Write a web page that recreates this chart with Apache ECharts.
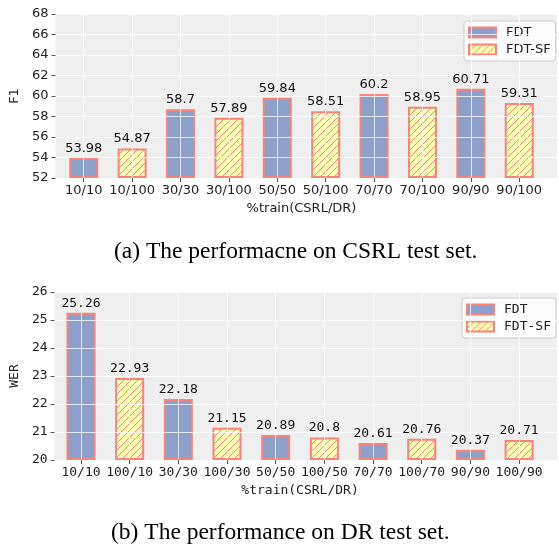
<!DOCTYPE html>
<html>
<head>
<meta charset="utf-8">
<script src="https://cdn.jsdelivr.net/npm/echarts@6/dist/echarts.min.js"></script>
<style>
  html, body { margin: 0; padding: 0; background: #fff; }
  #main { width: 559px; height: 545px; }
</style>
</head>
<body>
<div id="main"></div>
<script>
// (a) CSRL test set
var topCats = ['10/10', '10/100', '30/30', '30/100', '50/50', '50/100', '70/70', '70/100', '90/90', '90/100'];
var topFdt = [53.98, 58.7, 59.84, 60.2, 60.71];
var topFdtSf = [54.87, 57.89, 58.51, 58.95, 59.31];
// (b) DR test set
var botCats = ['10/10', '100/10', '30/30', '100/30', '50/50', '100/50', '70/70', '100/70', '90/90', '100/90'];
var botFdt = [25.26, 22.18, 20.89, 20.61, 20.37];
var botFdtSf = [22.93, 21.15, 20.8, 20.76, 20.71];

var BLUE = '#8DA0CB';
var YELLOW = '#FFFFB3';
var EDGE = '#F8837A';
var GRIDLINE = 'rgba(255,255,255,0.75)';
var FS = 13;

// hatch tile "//"
function makeHatch() {
  var c = document.createElement('canvas');
  var s = 7;
  c.width = s; c.height = s;
  var ctx = c.getContext('2d');
  ctx.fillStyle = YELLOW;
  ctx.fillRect(0, 0, s, s);
  ctx.strokeStyle = EDGE;
  ctx.lineWidth = 1;
  ctx.beginPath();
  ctx.moveTo(-1, 1); ctx.lineTo(1, -1);
  ctx.moveTo(0, s); ctx.lineTo(s, 0);
  ctx.moveTo(s - 1, s + 1); ctx.lineTo(s + 1, s - 1);
  ctx.stroke();
  return c;
}
var hatch = { image: makeHatch(), repeat: 'repeat' };

// put values on even / odd slots
function spread(vals, odd) {
  var out = [];
  for (var i = 0; i < vals.length * 2; i++) {
    out.push((i % 2 === (odd ? 1 : 0)) ? vals[Math.floor(i / 2)] : '-');
  }
  return out;
}

function barSeries(name, data, idx, fill) {
  return {
    name: name,
    type: 'bar',
    xAxisIndex: idx,
    yAxisIndex: idx,
    data: data,
    barWidth: 29,
    barGap: '-100%',
    clip: false,
    z: 2,
    itemStyle: { color: fill, borderColor: EDGE, borderWidth: 2 }
  };
}

// transparent copy of the bars that only carries the value labels (kept above the grid lines)
function labelSeries(cats, a, b, idx, font) {
  var data = [];
  var fa = spread(a, false), fb = spread(b, true);
  for (var i = 0; i < cats.length; i++) data.push(fa[i] !== '-' ? fa[i] : fb[i]);
  return {
    name: 'labels',
    type: 'bar',
    xAxisIndex: idx,
    yAxisIndex: idx,
    data: data,
    barWidth: 29,
    barGap: '-100%',
    clip: false,
    z: 10,
    silent: true,
    itemStyle: { color: 'rgba(0,0,0,0)' },
    label: {
      show: true,
      position: 'top',
      distance: 3,
      color: '#111',
      fontFamily: font,
      fontSize: FS
    }
  };
}

var SANS = 'DejaVu Sans';
var MONO = 'DejaVu Sans Mono';

function bgYAxis(idx, min, max, interval, name, gap, font) {
  return {
    type: 'value', gridIndex: idx, min: min, max: max, interval: interval,
    z: 5,
    name: name, nameLocation: 'middle', nameGap: gap,
    nameTextStyle: { fontFamily: font, fontSize: FS, color: '#222' },
    axisLine: { show: false },
    axisTick: { show: true, length: 4, lineStyle: { color: '#555' } },
    axisLabel: { margin: 7, fontFamily: font, fontSize: FS, color: '#222' },
    splitLine: { show: true, lineStyle: { color: GRIDLINE, width: 1 } }
  };
}

// hidden value axis the bars grow from (bars start at min, not at 0)
function barYAxis(idx, min, max) {
  return { type: 'value', gridIndex: idx, min: min, max: max, startValue: min, show: false };
}

function catXAxis(idx, cats, font) {
  return {
    type: 'category', gridIndex: idx, data: cats, boundaryGap: false,
    z: 5,
    name: '%train(CSRL/DR)', nameLocation: 'middle', nameGap: 24,
    nameTextStyle: { fontFamily: font, fontSize: FS, color: '#222' },
    axisLine: { show: false },
    axisTick: { show: true, length: 4, lineStyle: { color: '#555' } },
    axisLabel: { margin: 6, interval: 0, fontFamily: font, fontSize: FS, color: '#222' },
    splitLine: { show: true, lineStyle: { color: GRIDLINE, width: 1 } }
  };
}

function legendAt(left, top, font) {
  return {
    orient: 'vertical', left: left, top: top,
    data: ['FDT', 'FDT-SF'],
    icon: 'rect', itemWidth: 27, itemHeight: 10, itemGap: 4,
    padding: [5, 5, 5, 4],
    backgroundColor: 'rgba(255,255,255,0.8)',
    borderColor: '#CCCCCC', borderWidth: 1, borderRadius: 3,
    textStyle: { fontFamily: font, fontSize: FS, color: '#222', padding: [0, 0, 0, 5] }
  };
}

var chart = echarts.init(document.getElementById('main'), null, { renderer: 'canvas' });

var capStyle = { fontFamily: 'Liberation Serif', fontSize: 23.5, fontWeight: 'normal', color: '#000' };

var option = {
  animation: false,
  title: [
    { text: '(a) The performacne on CSRL test set.', left: 114, top: 240, padding: 0, textStyle: capStyle },
    { text: '(b) The performance on DR test set.', left: 111, top: 521, padding: 0, textStyle: capStyle }
  ],
  legend: [legendAt(464, 21, SANS), legendAt(462, 298, MONO)],
  grid: [
    { left: 46, top: 14, width: 511, height: 164, show: true, backgroundColor: '#EFEFEF', borderWidth: 0 },
    { left: 83.74, top: 14, width: 435.5, height: 164 },
    { left: 43, top: 292, width: 514, height: 168, show: true, backgroundColor: '#EFEFEF', borderWidth: 0 },
    { left: 80.97, top: 292, width: 438.1, height: 168 }
  ],
  xAxis: [
    { type: 'value', gridIndex: 0, show: false },
    catXAxis(1, topCats, SANS),
    { type: 'value', gridIndex: 2, show: false },
    catXAxis(3, botCats, MONO)
  ],
  yAxis: [
    bgYAxis(0, 52, 68, 2, 'F1', 26, SANS),
    barYAxis(1, 52, 68),
    bgYAxis(2, 20, 26, 1, 'WER', 24, MONO),
    barYAxis(3, 20, 26)
  ],
  series: [
    barSeries('FDT', spread(topFdt, false), 1, BLUE),
    barSeries('FDT-SF', spread(topFdtSf, true), 1, hatch),
    labelSeries(topCats, topFdt, topFdtSf, 1, SANS),
    barSeries('FDT', spread(botFdt, false), 3, BLUE),
    barSeries('FDT-SF', spread(botFdtSf, true), 3, hatch),
    labelSeries(botCats, botFdt, botFdtSf, 3, MONO)
  ]
};

chart.setOption(option);
</script>
</body>
</html>
